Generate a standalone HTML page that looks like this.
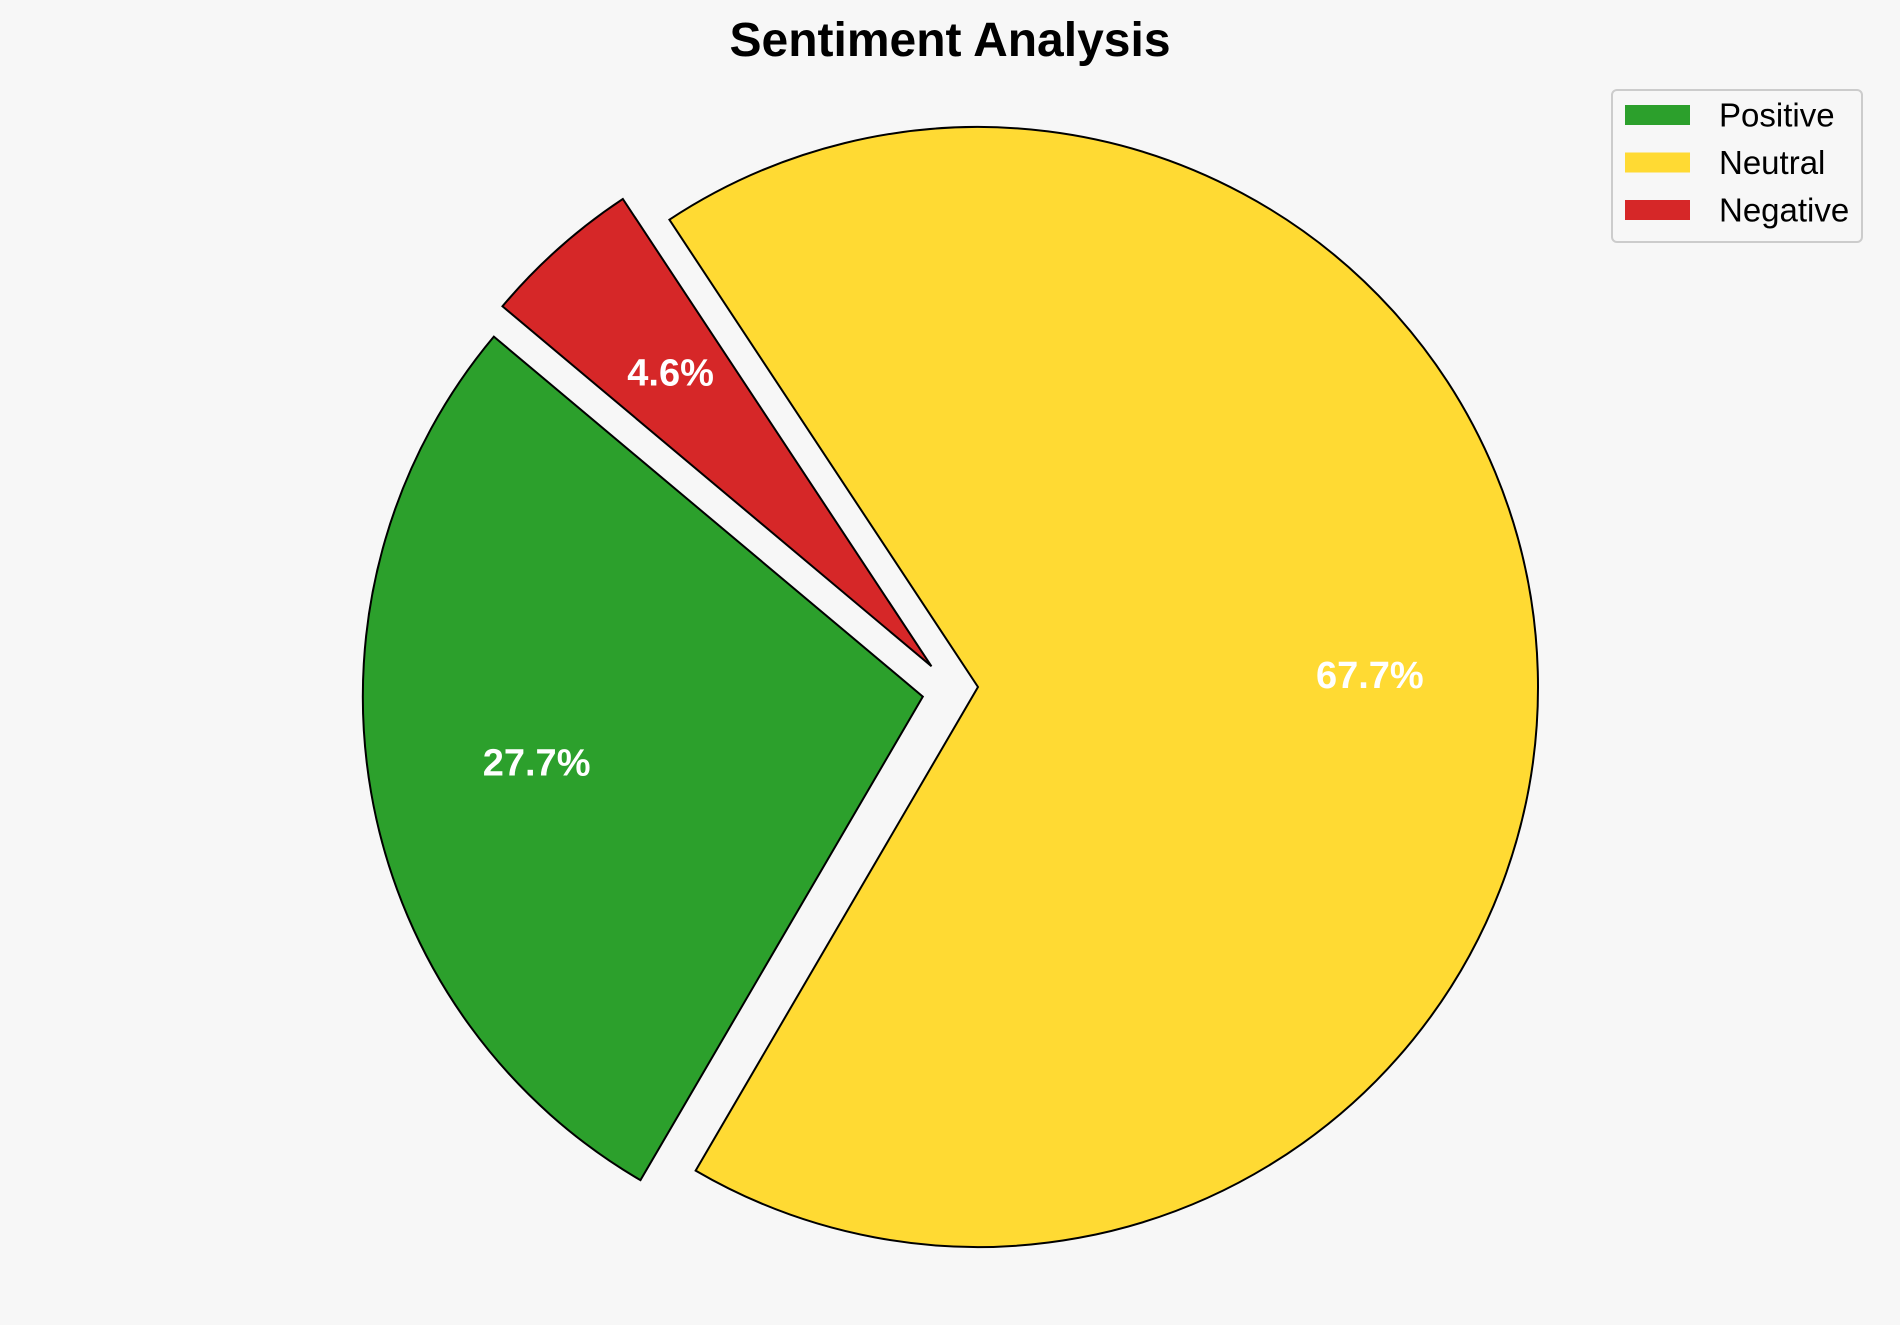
<!DOCTYPE html>
<html>
<head>
<meta charset="utf-8">
<style>
html,body{margin:0;padding:0;background:#f7f7f7;}
svg{display:block;font-family:"Liberation Sans",Arial,sans-serif;}
</style>
</head>
<body>
<svg id="chart" width="1900" height="1325" viewBox="0 0 1900 1325">
<rect width="1900" height="1325" fill="#f7f7f7"/>
<text x="950" y="56" text-anchor="middle" font-size="48" font-weight="bold" fill="#000">Sentiment Analysis</text>
<g id="slices"></g>
<g id="legend">
<rect x="1612" y="90" width="250" height="152" rx="5" fill="#f7f7f7" stroke="#cccccc" stroke-width="2"/>
</g>
</svg>
<script>
const categories = ["Positive", "Neutral", "Negative"];
const values = [27.7, 67.7, 4.6];
const explodes = [0.1, 0, 0.091];
const colors = ["#2ca02c", "#ffda33", "#d62728"];
const explodeAngleOverride = [null, null, 156];

const NS = "http://www.w3.org/2000/svg";
const cx = 978, cy = 687, R = 560, startAngle = 140, pctDist = 0.7;
const total = values.reduce((a, b) => a + b, 0);
const slicesG = document.getElementById("slices");
const legendG = document.getElementById("legend");

function pt(ox, oy, r, deg) {
  const a = deg * Math.PI / 180;
  return [ox + r * Math.cos(a), oy - r * Math.sin(a)];
}

let ang = startAngle;
values.forEach((v, i) => {
  const sweep = v / total * 360;
  const mid = ang + sweep / 2;
  const off = explodes[i] * R;
  const dir = explodeAngleOverride[i] !== null ? explodeAngleOverride[i] : mid;
  const [ox, oy] = pt(cx, cy, off, dir);
  const [x1, y1] = pt(ox, oy, R, ang);
  const [x2, y2] = pt(ox, oy, R, ang + sweep);
  const large = sweep > 180 ? 1 : 0;
  const path = document.createElementNS(NS, "path");
  path.setAttribute("d", `M${ox},${oy} L${x1},${y1} A${R},${R} 0 ${large} 0 ${x2},${y2} Z`);
  path.setAttribute("fill", colors[i]);
  path.setAttribute("stroke", "#000");
  path.setAttribute("stroke-width", "2");
  
  
  slicesG.appendChild(path);

  const [tx, ty] = pt(ox, oy, R * pctDist, mid);
  const t = document.createElementNS(NS, "text");
  t.setAttribute("x", tx);
  t.setAttribute("y", ty);
  t.setAttribute("text-anchor", "middle");
  t.setAttribute("dominant-baseline", "central");
  t.setAttribute("font-size", "38");
  t.setAttribute("font-weight", "bold");
  t.setAttribute("fill", "#ffffff");
  t.textContent = v.toFixed(1) + "%";
  
  
  slicesG.appendChild(t);

  ang += sweep;
});

categories.forEach((c, i) => {
  const y = 115 + i * 47.5;
  const r = document.createElementNS(NS, "rect");
  r.setAttribute("x", 1625);
  r.setAttribute("y", y - 10);
  r.setAttribute("width", 65);
  r.setAttribute("height", 20);
  r.setAttribute("fill", colors[i]);
  
  
  legendG.appendChild(r);
  const t = document.createElementNS(NS, "text");
  t.setAttribute("x", 1719);
  t.setAttribute("y", y);
  t.setAttribute("dominant-baseline", "central");
  t.setAttribute("font-size", "33");
  t.setAttribute("fill", "#000");
  t.textContent = c;
  
  
  legendG.appendChild(t);
});
</script>
</body>
</html>
